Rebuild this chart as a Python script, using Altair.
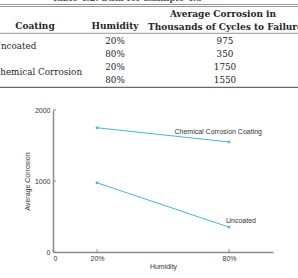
import altair as alt
import pandas as pd

# ---------------- data ----------------
coatings = ["Uncoated", "Uncoated", "Chemical Corrosion", "Chemical Corrosion"]
humidity_labels = ["20%", "80%", "20%", "80%"]
humidity = [20, 80, 20, 80]
corrosion = [975, 350, 1750, 1550]
rows = ["r1", "r2", "r3", "r4"]
coating_groups = ["Uncoated", "Chemical Corrosion"]
coating_rows = ["r1", "r3"]
series_labels = ["Uncoated", "Chemical Corrosion Coating"]
x_ticks = [0, 20, 80]
y_ticks = [0, 1000, 2000]
caption = "Table 4.2: Data for Example 4.8"
hdr_coating = "Coating"
hdr_humidity = "Humidity"
hdr_avg1 = "Average Corrosion in"
hdr_avg2 = "Thousands of Cycles to Failure"
x_title = "Humidity"
y_title = "Average Corrosion"

# ---------------- layout ----------------
OX, OY = 53, 110        # plot origin on the page
W, H = 220, 142
SERIF = "DejaVu Serif"
SANS = "Liberation Sans"
INK = "#262626"
BLUE = "#45b6e0"
AXIS = "#8c8c8c"
LBL = "#333333"

df = pd.DataFrame({
    "coating": coatings, "hum_label": humidity_labels,
    "humidity": humidity, "corrosion": corrosion, "row": rows,
})
coat_df = pd.DataFrame({"coating": coating_groups, "row": coating_rows})
dummy = pd.DataFrame({"a": [0]})

xs = alt.Scale(domain=[0, 100])
ys = alt.Scale(domain=[0, 2000])

x_axis = alt.Axis(
    values=x_ticks, labelExpr="datum.value == 0 ? '0' : datum.value + '%'",
    title=x_title, grid=False, ticks=False, domainColor=AXIS, domainWidth=1.5,
    labelFont=SANS, labelFontSize=7, labelColor=LBL, labelPadding=2,
    titleFont=SANS, titleFontSize=7, titleFontWeight="normal", titleColor=LBL,
    titleY=14, titleBaseline="middle",
)
y_axis = alt.Axis(
    values=y_ticks, format="d", title=y_title, grid=False, ticks=False,
    domainColor=AXIS, domainWidth=1.5,
    labelFont=SANS, labelFontSize=7, labelColor=LBL, labelPadding=3,
    titleFont=SANS, titleFontSize=7, titleFontWeight="normal", titleColor=LBL,
    titleX=-26, titleY=H / 2, titleAngle=270, titleAlign="center",
    titleBaseline="middle",
)

X = alt.X("humidity:Q", scale=xs, axis=x_axis, title=x_title)
Y = alt.Y("corrosion:Q", scale=ys, axis=y_axis, title=y_title)

line = alt.Chart(df).mark_line(color=BLUE, strokeWidth=1).encode(
    x=X, y=Y, detail="coating:N")
pts = alt.Chart(df).mark_square(color=BLUE, size=6, opacity=1).encode(x=X, y=Y)

lab_chem = alt.Chart(df).transform_filter(
    "datum.coating == 'Chemical Corrosion' && datum.humidity == 80"
).mark_text(font=SANS, fontSize=7, color=LBL, align="right", baseline="middle",
            dx=33, dy=-10).encode(x=X, y=Y, text=alt.value(series_labels[1]))
lab_unc = alt.Chart(df).transform_filter(
    "datum.coating == 'Uncoated' && datum.humidity == 80"
).mark_text(font=SANS, fontSize=7, color=LBL, align="left", baseline="middle",
            dx=-3, dy=-6).encode(x=X, y=Y, text=alt.value(series_labels[0]))

ytick = alt.Chart(pd.DataFrame({"corrosion": y_ticks})).mark_rule(
    color=AXIS, strokeWidth=1).encode(y=Y, x=alt.value(0), x2=alt.value(3))
xtick = alt.Chart(pd.DataFrame({"humidity": x_ticks})).mark_rule(
    color=AXIS, strokeWidth=1).encode(x=X, y=alt.value(H), y2=alt.value(H - 3))

plot = alt.layer(line, pts, lab_chem, lab_unc, ytick, xtick)

# ---------------- table ----------------
row_scale = alt.Scale(type="point", domain=rows,
                      range=[40.5 - OY, 79.5 - OY], padding=0)
RY = alt.Y("row:N", scale=row_scale, axis=None)
BODY = 8.8
HEAD = 9

hum_txt = alt.Chart(df).mark_text(font=SERIF, fontSize=BODY, color=INK,
                                  align="center", baseline="middle").encode(
    x=alt.value(115 - OX), y=RY, text="hum_label:N")
val_txt = alt.Chart(df).mark_text(font=SERIF, fontSize=BODY, color=INK,
                                  align="center", baseline="middle").encode(
    x=alt.value(225 - OX), y=RY, text="corrosion:Q")
coat_txt = alt.Chart(coat_df).mark_text(font=SERIF, fontSize=BODY, color=INK,
                                        align="left", baseline="middle", dy=5).encode(
    x=alt.value(-6.5 - OX), y=RY, text="coating:N")


def label(text, x, y, align="center", bold=True, size=HEAD, color=INK):
    return alt.Chart(dummy).mark_text(
        font=SERIF, fontSize=size, color=color, align=align, baseline="middle",
        fontWeight="bold" if bold else "normal",
    ).encode(x=alt.value(x - OX), y=alt.value(y - OY), text=alt.value(text))


def hrule(y, w=0.7):
    return alt.Chart(dummy).mark_rule(color="#6a6a6a", strokeWidth=w).encode(
        x=alt.value(-OX), x2=alt.value(298 - OX), y=alt.value(y - OY))


table = alt.layer(
    hum_txt, val_txt, coat_txt,
    label(caption, 127, -2, bold=True, size=8.5, color="#555555"),
    label(hdr_coating, 35, 25.5),
    label(hdr_humidity, 115, 25.5),
    label(hdr_avg1, 223, 14),
    label(hdr_avg2, 148, 26.5, align="left"),
    hrule(4.5), hrule(6.5), hrule(33.3), hrule(87.3, 1.3),
)

chart = alt.layer(plot, table).resolve_scale(y="independent").properties(
    width=W, height=H,
    padding={"left": OX, "top": OY, "right": 298 - OX - W, "bottom": 278 - OY - H},
    autosize=alt.AutoSizeParams(type="none"),
    background="white",
).configure_view(strokeWidth=0)

chart.save("out.html", embed_options={"renderer": "svg", "actions": False})
